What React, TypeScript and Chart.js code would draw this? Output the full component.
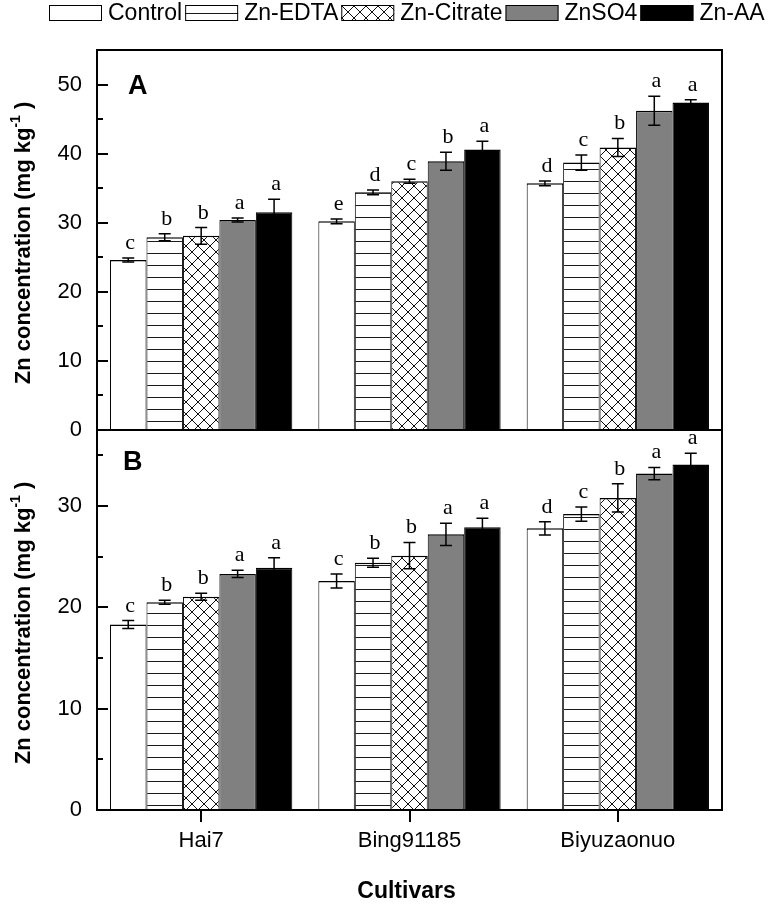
import React, { useEffect, useRef } from 'react';
import { Chart, registerables } from 'chart.js';

Chart.register(...registerables);

const SANS = '"Liberation Sans", Arial, sans-serif';
const SERIF = '"Liberation Serif", "Times New Roman", serif';

const cultivars = ['Hai7', 'Bing91185', 'Biyuzaonuo'];
const treatments = ['Control', 'Zn-EDTA', 'Zn-Citrate', 'ZnSO4', 'Zn-AA'];

// Panel A (values per treatment, one per cultivar)
const controlA = [24.6, 30.2, 35.7];
const edtaA = [27.9, 34.4, 38.7];
const citrateA = [28.1, 36.0, 40.9];
const znso4A = [30.4, 38.9, 46.2];
const znaaA = [31.5, 40.6, 47.4];
const controlErrA = [0.3, 0.35, 0.35];
const edtaErrA = [0.5, 0.35, 1.1];
const citrateErrA = [1.2, 0.3, 1.3];
const znso4ErrA = [0.3, 1.3, 2.1];
const znaaErrA = [1.9, 1.2, 0.4];
const controlLettersA = ['c', 'e', 'd'];
const edtaLettersA = ['b', 'd', 'c'];
const citrateLettersA = ['b', 'c', 'b'];
const znso4LettersA = ['a', 'b', 'a'];
const znaaLettersA = ['a', 'a', 'a'];

// Panel B
const controlB = [18.3, 22.6, 27.8];
const edtaB = [20.5, 24.4, 29.2];
const citrateB = [21.05, 25.1, 30.8];
const znso4B = [23.3, 27.2, 33.2];
const znaaB = [23.9, 27.9, 34.1];
const controlErrB = [0.4, 0.7, 0.65];
const edtaErrB = [0.2, 0.45, 0.7];
const citrateErrB = [0.35, 1.3, 1.4];
const znso4ErrB = [0.35, 1.1, 0.6];
const znaaErrB = [1.0, 0.9, 1.1];
const controlLettersB = ['c', 'c', 'd'];
const edtaLettersB = ['b', 'b', 'c'];
const citrateLettersB = ['b', 'b', 'b'];
const znso4LettersB = ['a', 'a', 'a'];
const znaaLettersB = ['a', 'a', 'a'];

const yMaxA = 55;
const yMaxB = 37.5;
const tickStep = 5;
const labelStep = 10;
const yTitleMain = 'Zn concentration (mg kg';
const yTitleSup = '-1';
const yTitleEnd = ' )';
const xTitle = 'Cultivars';

const panels = [
  {
    name: 'A',
    axis: 'yA',
    values: [controlA, edtaA, citrateA, znso4A, znaaA],
    errors: [controlErrA, edtaErrA, citrateErrA, znso4ErrA, znaaErrA],
    letters: [controlLettersA, edtaLettersA, citrateLettersA, znso4LettersA, znaaLettersA],
    labelDx: 31,
    labelDy: 37,
  },
  {
    name: 'B',
    axis: 'yB',
    values: [controlB, edtaB, citrateB, znso4B, znaaB],
    errors: [controlErrB, edtaErrB, citrateErrB, znso4ErrB, znaaErrB],
    letters: [controlLettersB, edtaLettersB, citrateLettersB, znso4LettersB, znaaLettersB],
    labelDx: 26,
    labelDy: 33,
  },
];

function makeLinesPattern(): CanvasPattern | string {
  const c = document.createElement('canvas');
  c.width = 12;
  c.height = 12;
  const g = c.getContext('2d');
  if (!g) return '#fff';
  g.fillStyle = '#ffffff';
  g.fillRect(0, 0, 12, 12);
  g.fillStyle = '#1a1a1a';
  g.fillRect(0, 1, 12, 1);
  return g.createPattern(c, 'repeat') || '#fff';
}

function makeCrossPattern(): CanvasPattern | string {
  const c = document.createElement('canvas');
  c.width = 12;
  c.height = 12;
  const g = c.getContext('2d');
  if (!g) return '#fff';
  g.fillStyle = '#ffffff';
  g.fillRect(0, 0, 12, 12);
  g.strokeStyle = '#111111';
  g.lineWidth = 1;
  g.beginPath();
  g.moveTo(-2, -2);
  g.lineTo(14, 14);
  g.moveTo(14, -2);
  g.lineTo(-2, 14);
  g.stroke();
  return g.createPattern(c, 'repeat') || '#fff';
}

const overlay = {
  id: 'overlay',
  afterDraw(chart: any) {
    const { ctx, chartArea: area } = chart;
    const nT = treatments.length;
    ctx.save();
    ctx.strokeStyle = '#000';
    ctx.fillStyle = '#000';

    panels.forEach((p, pi) => {
      const ys = chart.scales[p.axis];
      // error bars and letters
      for (let t = 0; t < nT; t++) {
        const meta = chart.getDatasetMeta(pi * nT + t);
        meta.data.forEach((bar: any, i: number) => {
          const v = p.values[t][i];
          const e = p.errors[t][i];
          const x = bar.x;
          const yt = ys.getPixelForValue(v + e);
          const yb = ys.getPixelForValue(v - e);
          ctx.strokeStyle = '#000';
          ctx.lineWidth = 1.5;
          ctx.beginPath();
          ctx.moveTo(x, yt);
          ctx.lineTo(x, yb);
          ctx.moveTo(x - 6, yt);
          ctx.lineTo(x + 6, yt);
          ctx.moveTo(x - 6, yb);
          ctx.lineTo(x + 6, yb);
          ctx.stroke();
          ctx.fillStyle = '#000';
          ctx.font = `22px ${SERIF}`;
          ctx.textAlign = 'center';
          ctx.textBaseline = 'alphabetic';
          ctx.fillText(p.letters[t][i], x + 2, yt - 9);
        });
      }
      // frame
      ctx.lineWidth = 2;
      ctx.strokeStyle = '#000';
      ctx.strokeRect(area.left, ys.top, area.right - area.left, ys.bottom - ys.top);
      // inward ticks
      ctx.beginPath();
      ys.ticks.forEach((tk: any) => {
        const y = Math.round(ys.getPixelForValue(tk.value));
        const len = tk.value % labelStep === 0 ? 11 : 6;
        ctx.moveTo(area.left, y);
        ctx.lineTo(area.left + len, y);
      });
      ctx.stroke();
      // panel label
      ctx.font = `bold 27px ${SANS}`;
      ctx.textAlign = 'left';
      ctx.textBaseline = 'middle';
      ctx.fillText(p.name, area.left + p.labelDx, ys.top + p.labelDy);
      // y title with superscript
      ctx.save();
      const cy = (ys.top + ys.bottom) / 2 + 3;
      ctx.translate(30, cy);
      ctx.rotate(-Math.PI / 2);
      ctx.textAlign = 'left';
      ctx.textBaseline = 'alphabetic';
      ctx.font = `bold 22px ${SANS}`;
      const w1 = ctx.measureText(yTitleMain).width;
      const w3 = ctx.measureText(yTitleEnd).width;
      ctx.font = `bold 14px ${SANS}`;
      const w2 = ctx.measureText(yTitleSup).width;
      let sx = -(w1 + w2 + w3) / 2;
      ctx.font = `bold 22px ${SANS}`;
      ctx.fillText(yTitleMain, sx, 0);
      sx += w1;
      ctx.font = `bold 14px ${SANS}`;
      ctx.fillText(yTitleSup, sx, -10);
      sx += w2;
      ctx.font = `bold 22px ${SANS}`;
      ctx.fillText(yTitleEnd, sx, 0);
      ctx.restore();
    });

    // x ticks (outward)
    const xs = chart.scales.x;
    ctx.lineWidth = 2;
    ctx.beginPath();
    cultivars.forEach((_, i) => {
      const x = Math.round(xs.getPixelForValue(i));
      ctx.moveTo(x, area.bottom);
      ctx.lineTo(x, area.bottom + 12);
    });
    ctx.stroke();

    // x title
    ctx.font = `bold 23px ${SANS}`;
    ctx.textAlign = 'center';
    ctx.textBaseline = 'alphabetic';
    ctx.fillText(xTitle, (area.left + area.right) / 2 - 3, 898);

    // legend
    let lx = 49;
    const boxW = 53;
    const boxH = 16;
    const ly = 5;
    ctx.font = `23px ${SANS}`;
    ctx.textAlign = 'left';
    ctx.textBaseline = 'middle';
    treatments.forEach((name, t) => {
      const ds = chart.data.datasets[t];
      ctx.fillStyle = ds.backgroundColor;
      ctx.fillRect(lx, ly, boxW, boxH);
      ctx.lineWidth = 1;
      ctx.strokeStyle = '#000';
      ctx.strokeRect(lx + 0.5, ly + 0.5, boxW - 1, boxH - 1);
      ctx.fillStyle = '#000';
      ctx.fillText(name, lx + boxW + 6, ly + boxH / 2 + 1);
      lx += boxW + 6 + ctx.measureText(name).width + 3;
    });

    ctx.restore();
  },
};

function yScale(max: number) {
  return {
    type: 'linear',
    position: 'left',
    stack: 'panels',
    stackWeight: 1,
    min: 0,
    max,
    stacked: false,
    grid: { display: false, drawTicks: false },
    border: { display: false },
    ticks: {
      stepSize: tickStep,
      includeBounds: false,
      autoSkip: false,
      padding: 15,
      color: '#000',
      font: { family: SANS, size: 22 },
      callback: (v: any) => (Number(v) % labelStep === 0 ? String(v) : ''),
    },
    afterFit: (s: any) => {
      s.width = 97;
    },
  };
}

export default function App() {
  const ref = useRef<HTMLCanvasElement>(null);

  useEffect(() => {
    const canvas = ref.current;
    if (!canvas) return;
    const fills = ['#ffffff', makeLinesPattern(), makeCrossPattern(), '#808080', '#000000'];
    const datasets: any[] = [];
    panels.forEach((p) => {
      p.values.forEach((vals, ti) => {
        datasets.push({
          label: treatments[ti],
          data: vals,
          yAxisID: p.axis,
          xAxisID: 'x',
          stack: 's' + ti,
          backgroundColor: fills[ti],
          borderColor: '#000',
          borderWidth: { top: 1.5, left: 1, right: 1, bottom: 0 },
          categoryPercentage: 0.875,
          barPercentage: 1,
        });
      });
    });

    const chart = new Chart(canvas, {
      type: 'bar',
      data: { labels: cultivars, datasets },
      options: {
        responsive: false,
        animation: false,
        events: [],
        layout: { padding: { top: 50, right: 50, left: 0, bottom: 0 } },
        plugins: { legend: { display: false }, tooltip: { enabled: false } },
        scales: {
          x: {
            type: 'category',
            offset: true,
            grid: { display: false, drawTicks: false },
            border: { display: false },
            ticks: {
              color: '#000',
              font: { family: SANS, size: 22 },
              padding: 18,
              maxRotation: 0,
              autoSkip: false,
            },
            afterFit: (s: any) => {
              s.height = 94;
            },
          },
          // listed bottom panel first: Chart.js stacks left axes from the bottom up
          yB: yScale(yMaxB),
          yA: yScale(yMaxA),
        },
      } as any,
      plugins: [overlay],
    });
    return () => chart.destroy();
  }, []);

  return (
    <div style={{ position: 'absolute', left: 0, top: 0, width: 772, height: 904, background: '#fff' }}>
      <canvas ref={ref} width={772} height={904} style={{ display: 'block', width: 772, height: 904 }} />
    </div>
  );
}
